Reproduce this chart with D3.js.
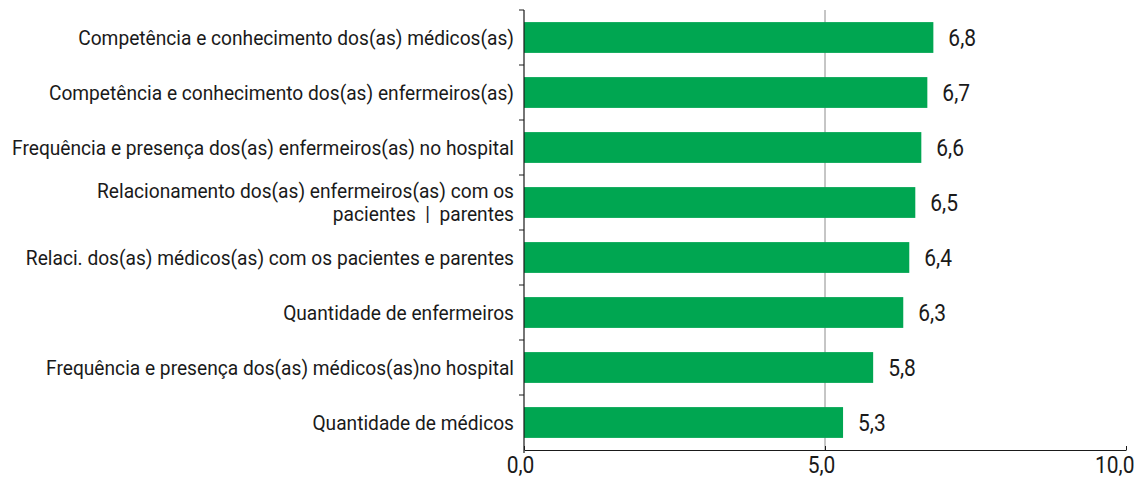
<!DOCTYPE html>
<html>
<head>
<meta charset="utf-8">
<script src="https://cdn.jsdelivr.net/npm/d3@7"></script>
<style>
  body { margin: 0; background: #fff; }
  text { font-family: Roboto, "Liberation Sans", sans-serif; fill: #1a1a1a; white-space: pre; }
</style>
</head>
<body>
<div id="chart"></div>
<script>
// data
var categories = [
	["Competência e conhecimento dos(as) médicos(as)"],
	["Competência e conhecimento dos(as) enfermeiros(as)"],
	["Frequência e presença dos(as) enfermeiros(as) no hospital"],
	["Relacionamento dos(as) enfermeiros(as) com os", "pacientes  |  parentes"],
	["Relaci. dos(as) médicos(as) com os pacientes e parentes"],
	["Quantidade de enfermeiros"],
	["Frequência e presença dos(as) médicos(as)no hospital"],
	["Quantidade de médicos"]
];
var values = [6.8, 6.7, 6.6, 6.5, 6.4, 6.3, 5.8, 5.3];
var xTicks = [0, 5, 10];
var xTickLabels = ["0,0", "5,0", "10,0"];

// chart dimensions
var margin = { top: 10, right: 11, bottom: 30, left: 524 };
var width = 1137 - margin.left - margin.right;
var height = 480 - margin.top - margin.bottom;

var barColor = "#00a651";
var fontSize = 21;
var numSize = 23;

var x = d3.scaleLinear().domain([0, 10]).range([0, width]);
var y = d3.scaleBand()
	.domain(d3.range(categories.length))
	.range([0, height])
	.paddingInner(0.44)
	.paddingOuter(0.22);

var svg = d3.select("#chart")
  .append("svg")
	.attr("width", 1137)
	.attr("height", 480);

var chart = svg.append("g")
	.attr("transform", "translate(" + margin.left + "," + margin.top + ")");

// the reference uses a condensed face; squeeze Roboto to the width of the first label
var probe = svg.append("text").style("font-size", fontSize + "px").text(categories[0][0]);
var squeeze = 436 / probe.node().getComputedTextLength();
probe.remove();

// vertical gridline at 5
chart.append("line")
	.attr("x1", x(5)).attr("x2", x(5))
	.attr("y1", 0).attr("y2", height)
	.attr("stroke", "#8c8c8c")
	.attr("stroke-width", 1);

// bars
chart.selectAll(".bar")
	.data(values)
  .enter().append("rect")
	.attr("class", "bar")
	.attr("x", 0)
	.attr("y", function(d, i) { return y(i); })
	.attr("width", function(d) { return x(d); })
	.attr("height", y.bandwidth())
	.attr("fill", barColor);

// value labels
chart.selectAll(".val")
	.data(values)
  .enter().append("text")
	.attr("class", "val")
	.attr("transform", function(d, i) {
		return "translate(" + (x(d) + 15) + "," + (y(i) + y.bandwidth() / 2) + ") scale(" + squeeze + ",1)";
	})
	.attr("dy", "0.36em")
	.style("font-size", numSize + "px")
	.text(function(d) { return d.toFixed(1).replace(".", ","); });

// left axis with ticks at band boundaries
var step = y.step();
chart.append("line")
	.attr("x1", 0).attr("x2", 0)
	.attr("y1", 0).attr("y2", height + 3)
	.attr("stroke", "#1a1a1a")
	.attr("stroke-width", 1.2);

chart.selectAll(".ytick")
	.data(d3.range(categories.length))
  .enter().append("line")
	.attr("class", "ytick")
	.attr("x1", -5).attr("x2", 0)
	.attr("y1", function(i) { return i * step; })
	.attr("y2", function(i) { return i * step; })
	.attr("stroke", "#1a1a1a")
	.attr("stroke-width", 1);

// category labels
var labels = chart.selectAll(".cat")
	.data(categories)
  .enter().append("text")
	.attr("class", "cat")
	.attr("transform", function(d, i) {
		return "translate(-10," + (y(i) + y.bandwidth() / 2) + ") scale(" + squeeze + ",1)";
	})
	.style("font-size", fontSize + "px")
	.attr("text-anchor", "end");

labels.selectAll("tspan")
	.data(function(d) { return d.map(function(t, j) { return { t: t, j: j, n: d.length }; }); })
  .enter().append("tspan")
	.attr("x", 0)
	.attr("dy", function(d) {
		if (d.j === 0) return (0.35 - (d.n - 1) * 0.55) + "em";
		return "1.1em";
	})
	.text(function(d) { return d.t; });

// bottom axis, ticks pointing up into the plot
var xAxis = d3.axisBottom(x)
	.tickValues(xTicks)
	.tickSizeInner(-4)
	.tickSizeOuter(0)
	.tickFormat(function(d, i) { return xTickLabels[i]; });

var gx = chart.append("g")
	.attr("transform", "translate(0," + height + ")")
	.call(xAxis);

gx.select(".domain").attr("stroke", "#1a1a1a").attr("stroke-width", 1.2);
gx.selectAll(".tick line").attr("stroke", "#1a1a1a");
gx.selectAll(".tick text")
	.attr("y", 7)
	.attr("dy", "0.71em")
	.attr("x", function(d, i) { return i === xTicks.length - 1 ? 8 / squeeze : -4 / squeeze; })
	.attr("text-anchor", function(d, i) { return i === xTicks.length - 1 ? "end" : "middle"; })
	.attr("transform", "scale(" + squeeze + ",1)")
	.style("font-size", numSize + "px")
	.style("font-family", "Roboto, \"Liberation Sans\", sans-serif")
	.attr("fill", "#1a1a1a");
</script>
</body>
</html>
